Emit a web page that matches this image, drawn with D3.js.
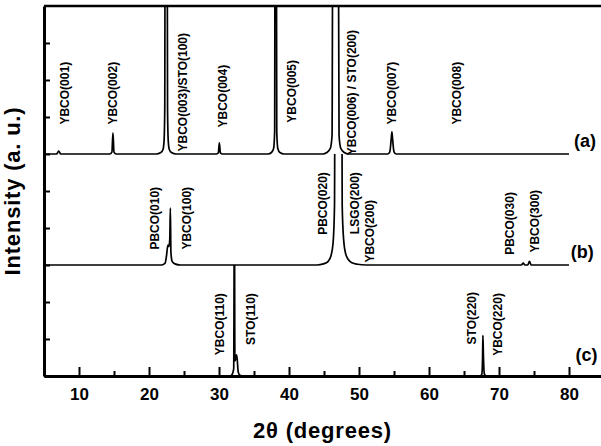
<!DOCTYPE html>
<html>
<head>
<meta charset="utf-8">
<script src="https://cdn.jsdelivr.net/npm/d3@7"></script>
<style>
  body { margin: 0; background: #fff; }
  text { font-family: "Liberation Sans", Arial, sans-serif; font-weight: bold; fill: #000; }
</style>
</head>
<body>
<svg id="chart" width="601" height="446"></svg>
<script>
// tick values (2 theta, degrees)
var majorTicks = [10, 20, 30, 40, 50, 60, 70, 80];
var minorTicks = [15, 25, 35, 45, 55, 65, 75];
var yTicks = [1, 2, 3, 4, 5, 6, 7, 8, 9];

// vertical offsets of the three patterns
var offsets = { a: 6, b: 3, c: 0 };

// pattern (a): [2theta, intensity above its baseline]
var traceA = [
  [5, 0], [6.8, 0], [7.1, 0.08], [7.4, 0],
  [14.4, 0], [14.7, 0.05], [14.85, 0.57], [15.0, 0.05], [15.3, 0],
  [21.0, 0], [21.7, 0.04], [22.0, 0.12], [22.15, 0.35], [22.25, 1.2], [22.3, 6], [22.6, 6],
  [22.65, 1.2], [22.75, 0.35], [22.9, 0.12], [23.2, 0.04], [23.9, 0],
  [29.6, 0], [29.9, 0.03], [30.05, 0.3], [30.2, 0.03], [30.5, 0],
  [37.0, 0], [37.5, 0.04], [37.8, 0.15], [37.95, 0.6], [38.0, 6], [38.2, 6],
  [38.25, 0.6], [38.4, 0.15], [38.7, 0.04], [39.3, 0],
  [44.8, 0], [45.4, 0.04], [45.9, 0.15], [46.15, 0.5], [46.25, 6], [47.05, 6],
  [47.15, 0.5], [47.4, 0.15], [47.9, 0.04], [48.5, 0],
  [54.1, 0], [54.4, 0.06], [54.6, 0.4], [54.7, 0.6], [54.8, 0.4], [55.0, 0.06], [55.3, 0],
  [80, 0]
];

// pattern (b)
var traceB = [
  [5, 0], [21.8, 0], [22.3, 0.05], [22.5, 0.25], [22.7, 0.54], [22.85, 0.5], [22.97, 0.7],
  [23.05, 1.54], [23.13, 0.35], [23.3, 0.1], [23.7, 0.03], [24.5, 0],
  [44.0, 0], [44.9, 0.03], [45.6, 0.1], [46.0, 0.25], [46.3, 0.6], [46.5, 1.6], [46.6, 8],
  [47.5, 8], [47.6, 1.6], [47.8, 0.7], [48.1, 0.3], [48.5, 0.14], [49.0, 0.06], [49.8, 0.02], [51, 0],
  [73.2, 0], [73.45, 0.05], [73.7, 0], [74.1, 0], [74.35, 0.1], [74.6, 0],
  [80, 0]
];

// pattern (c)
var traceC = [
  [5, 0], [31.6, 0], [31.9, 0.05], [32.1, 0.2], [32.2, 5], [32.27, 0.4], [32.4, 0.5],
  [32.5, 0.57], [32.6, 0.45], [32.75, 0.1], [33.0, 0.02], [33.5, 0],
  [67.3, 0], [67.55, 0.05], [67.65, 0.5], [67.7, 1.1], [67.78, 0.5], [67.9, 0.06], [68.2, 0],
  [80, 0]
];

// peak labels: [text, 2theta, top of label in intensity units]
var peakLabels = [
  ["YBCO(001)", 8.0, 8.49],
  ["YBCO(002)", 14.86, 8.49],
  ["YBCO(003)/STO(100)", 24.86, 9.27],
  ["YBCO(004)", 30.57, 8.41],
  ["YBCO(005)", 40.43, 8.54],
  ["YBCO(006) / STO(200)", 49.0, 9.35],
  ["YBCO(007)", 54.71, 8.49],
  ["YBCO(008)", 64.0, 8.49],
  ["PBCO(010)", 20.86, 5.11],
  ["YBCO(100)", 25.43, 5.11],
  ["PBCO(020)", 44.86, 5.51],
  ["LSGO(200)", 49.43, 5.51],
  ["YBCO(200)", 51.57, 4.76],
  ["PBCO(030)", 71.57, 4.97],
  ["YBCO(300)", 75.14, 5.03],
  ["YBCO(110)", 30.14, 2.24],
  ["STO(110)", 34.57, 2.24],
  ["STO(220)", 66.14, 2.27],
  ["YBCO(220)", 69.86, 2.24]
];

var panelLabels = [["(a)", 82.3, 6.19], ["(b)", 81.9, 3.2], ["(c)", 82.5, 0.41]];

(function() {
  var svg = d3.select("#chart");
  var mLeft = 44, mRight = 601, mTop = 6, mBottom = 376;

  var x = d3.scaleLinear().domain([5, 84.57]).range([mLeft, mRight]);
  var y = d3.scaleLinear().domain([0, 10]).range([mBottom, mTop]);

  svg.append("rect").attr("width", 601).attr("height", 446).attr("fill", "#fff");

  // each pattern is cut off where the pattern above starts
  var clips = [
    ["clipA", 10, traceA, offsets.a],
    ["clipB", offsets.a, traceB, offsets.b],
    ["clipC", offsets.b, traceC, offsets.c]
  ];

  var defs = svg.append("defs");
  var line = d3.line()
      .x(function(d) { return x(d[0]); })
      .y(function(d) { return y(d[1]); })
      .curve(d3.curveMonotoneX);

  clips.forEach(function(c) {
    defs.append("clipPath").attr("id", c[0])
      .append("rect")
        .attr("x", mLeft)
        .attr("y", y(c[1]))
        .attr("width", mRight - mLeft)
        .attr("height", mBottom - y(c[1]) + 2);

    svg.append("path")
        .datum(c[2].map(function(p) { return [p[0], p[1] + c[3]]; }))
        .attr("clip-path", "url(#" + c[0] + ")")
        .attr("fill", "none")
        .attr("stroke", "#000")
        .attr("stroke-width", 1.7)
        .attr("stroke-linejoin", "round")
        .attr("d", line);
  });

  // axes, ticks pointing inward
  var xAxis = svg.append("g")
      .attr("transform", "translate(0," + mBottom + ")")
      .call(d3.axisBottom(x).tickValues(majorTicks).tickSize(-9).tickSizeOuter(0).tickPadding(12));

  svg.append("g")
      .attr("transform", "translate(0," + mBottom + ")")
      .call(d3.axisBottom(x).tickValues(minorTicks).tickSize(-5).tickSizeOuter(0).tickFormat(""));

  svg.append("g")
      .attr("transform", "translate(" + mLeft + ",0)")
      .call(d3.axisLeft(y).tickValues(yTicks).tickSize(-6).tickSizeOuter(0).tickFormat(""));

  svg.selectAll(".domain").attr("stroke-width", 3);
  svg.selectAll(".tick line").attr("stroke-width", 2);
  xAxis.selectAll("text").style("font-size", "17px").attr("fill", "#000");

  // top frame line
  svg.append("line")
      .attr("x1", mLeft).attr("x2", mRight)
      .attr("y1", y(10)).attr("y2", y(10))
      .attr("stroke", "#000").attr("stroke-width", 2.5);

  // peak labels
  svg.selectAll("text.peak")
    .data(peakLabels)
    .enter().append("text")
      .attr("class", "peak")
      .attr("transform", function(d) { return "translate(" + x(d[1]) + "," + y(d[2]) + ") rotate(-90)"; })
      .attr("text-anchor", "end")
      .attr("dy", "0.36em")
      .style("font-size", "12px")
      .text(function(d) { return d[0]; });

  svg.selectAll("text.panel")
    .data(panelLabels)
    .enter().append("text")
      .attr("class", "panel")
      .attr("x", function(d) { return x(d[1]); })
      .attr("y", function(d) { return y(d[2]); })
      .attr("text-anchor", "middle")
      .style("font-size", "18px")
      .text(function(d) { return d[0]; });

  // axis titles
  svg.append("text")
      .attr("transform", "translate(20," + (mBottom + mTop) / 2 + ") rotate(-90)")
      .attr("text-anchor", "middle")
      .style("font-size", "22px")
      .style("letter-spacing", "0.8px")
      .text("Intensity (a. u.)");

  svg.append("text")
      .attr("x", (mLeft + mRight) / 2)
      .attr("y", 438)
      .attr("text-anchor", "middle")
      .style("font-size", "22px")
      .style("letter-spacing", "0.8px")
      .text("2θ (degrees)");
})();
</script>
</body>
</html>
